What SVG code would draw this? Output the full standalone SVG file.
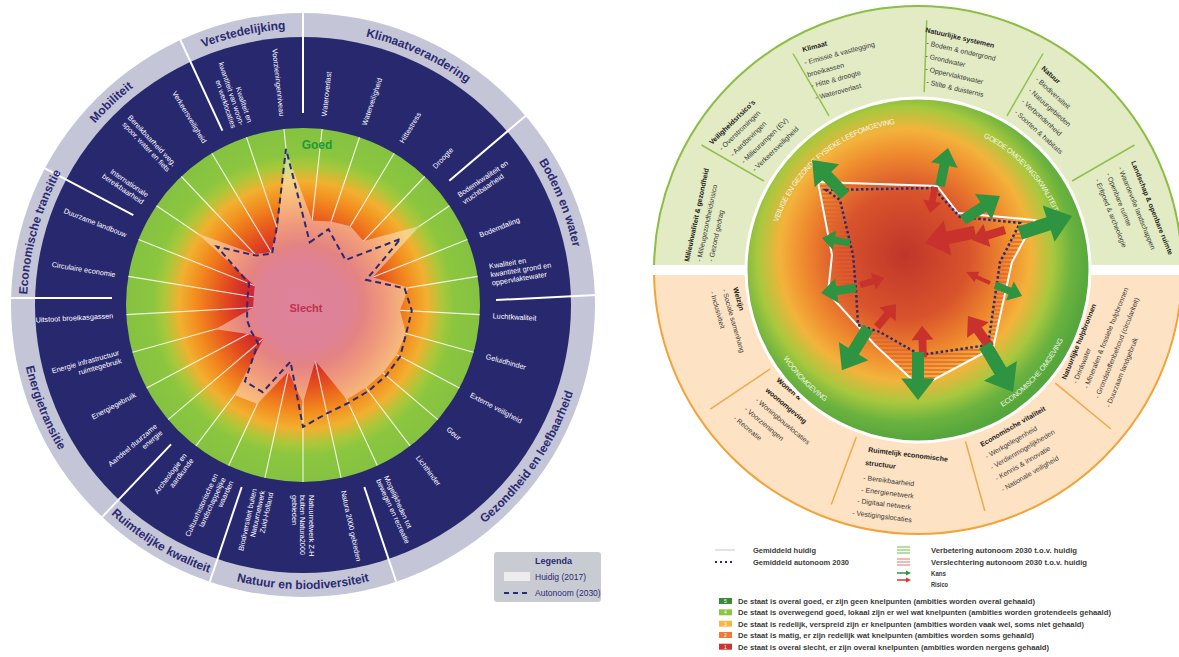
<svg xmlns="http://www.w3.org/2000/svg" xmlns:xlink="http://www.w3.org/1999/xlink" width="1179" height="657" viewBox="0 0 1179 657">
<style>
.lbl{font-family:'Liberation Sans',Arial,sans-serif;font-size:7.3px;fill:#fff}
.cat{font-family:'Liberation Sans',Arial,sans-serif;font-weight:bold;font-size:12px;fill:#2b2a72}
.rt{font-family:'Liberation Sans',Arial,sans-serif;font-size:7px;fill:#3a3a3a}
.rh{font-weight:bold;fill:#222}
.inl{font-family:'Liberation Sans',Arial,sans-serif;font-size:7.3px;letter-spacing:-0.3px;fill:#fff;fill-opacity:.9}
.lg{font-family:'Liberation Sans',Arial,sans-serif;font-size:8px;font-weight:bold;fill:#3b3b3b}
.div{stroke:#fff;stroke-width:2}
.gdiv{stroke:#93bf4f;stroke-width:1.5}
.odiv{stroke:#f0a848;stroke-width:1.5}
.spk{stroke:#fff;stroke-width:1.1;stroke-opacity:.85}
</style>
<defs>
<radialGradient id="gL" cx="303" cy="305" r="177" gradientUnits="userSpaceOnUse">
<stop offset="0" stop-color="#c42a55"/>
<stop offset="0.25" stop-color="#c8284a"/>
<stop offset="0.34" stop-color="#d02a2a"/>
<stop offset="0.46" stop-color="#e6501e"/>
<stop offset="0.6" stop-color="#f28a1e"/>
<stop offset="0.7" stop-color="#f2b030"/>
<stop offset="0.79" stop-color="#a9c83a"/>
<stop offset="0.85" stop-color="#8cc63f"/>
<stop offset="1" stop-color="#84c241"/>
</radialGradient>
<radialGradient id="gR" cx="905" cy="255" r="185" gradientUnits="userSpaceOnUse">
<stop offset="0" stop-color="#c0352a"/>
<stop offset="0.35" stop-color="#d9542c"/>
<stop offset="0.55" stop-color="#ef8a2e"/>
<stop offset="0.68" stop-color="#f3b33c"/>
<stop offset="0.8" stop-color="#a8c83e"/>
<stop offset="0.9" stop-color="#6cb33f"/>
<stop offset="1" stop-color="#55a63c"/>
</radialGradient>
<pattern id="hatch" width="6" height="4" patternUnits="userSpaceOnUse">
<line x1="0" y1="2" x2="6" y2="2" stroke="#e0602a" stroke-width="1.3"/>
</pattern>
<mask id="mH">
<rect width="1179" height="657" fill="#fff"/>
<polygon fill="#000" points="312.2,220.5 331.1,221.6 350.4,226.2 363.5,241.1 419.7,225.9 372.7,277.2 408.6,287.7 399.9,310.2 406.1,333.6 396.7,354.6 383,373 366,387.8 346.7,399.4 315.3,360.7 303,403 288.4,371.4 257.2,403.9 234.6,394.9 263.4,338.7 248.2,334 215.3,329.3 253.1,307.7 253.7,296.9 254.7,285.8 197.1,233.2 254.9,254.2 271,251.9 277.5,229.2 286.2,150.9"/>
</mask>
<clipPath id="cUp"><rect x="600" y="0" width="579" height="265"/></clipPath>
<clipPath id="cLo"><rect x="600" y="275" width="579" height="300"/></clipPath>
<path id="aG" d="M0,-5 H22 V-14 L40,0 L22,14 V5 H0 Z" fill="#2e9441"/>
<path id="aR" d="M0,-5 H22 V-14 L40,0 L22,14 V5 H0 Z" fill="#c8312c"/>
<path id="pKl" d="M76.4,147.5 A276,276 0 0 1 569.8,375.5"/>
<path id="pBo" d="M247,34.7 A276,276 0 0 1 448,539.8"/>
<path id="pGe" d="M187,564.2 A284,284 0 0 0 500.6,101.1"/>
<path id="pNa" d="M23.3,354.3 A284,284 0 0 0 582.7,354.3"/>
<path id="pRu" d="M37.9,203.2 A284,284 0 0 0 517.3,491.3"/>
<path id="pEn" d="M153.8,63.4 A284,284 0 0 0 360.6,583.1"/>
<path id="pEc" d="M184.2,554.1 A276,276 0 0 1 329.4,30.3"/>
<path id="pMo" d="M72.6,456.9 A276,276 0 0 1 467.6,83.4"/>
<path id="pVe" d="M27.2,316.6 A276,276 0 0 1 558.2,199.8"/>
<path id="pGo" d="M883.5,126.1 A148,148 0 0 1 1059.9,312"/>
<path id="pVl" d="M772.3,296.1 A148,148 0 0 1 968.6,130.9"/>
<path id="pWo" d="M763.2,225.6 A161,161 0 0 0 956.9,426.2"/>
<path id="pEo" d="M884.5,427.5 A161,161 0 0 0 1071.1,220.3"/>
</defs>
<rect width="1179" height="657" fill="#fff"/>

<!-- LEFT WHEEL -->
<g id="left-wheel">
<circle cx="303" cy="305" r="292" fill="#c4c5d7"/>
<circle cx="303" cy="305" r="268" fill="#28286f"/>
<circle cx="303" cy="305" r="177" fill="url(#gL)"/>
<g id="spokes" mask="url(#mH)">
<line class="spk" x1="303" y1="305" x2="322.1" y2="129"/>
<line class="spk" x1="303" y1="305" x2="359.5" y2="137.3"/>
<line class="spk" x1="303" y1="305" x2="394.2" y2="153.3"/>
<line class="spk" x1="303" y1="305" x2="424.7" y2="176.5"/>
<line class="spk" x1="303" y1="305" x2="449.5" y2="205.7"/>
<line class="spk" x1="303" y1="305" x2="467.4" y2="239.5"/>
<line class="spk" x1="303" y1="305" x2="477.7" y2="276.4"/>
<line class="spk" x1="303" y1="305" x2="479.7" y2="314.6"/>
<line class="spk" x1="303" y1="305" x2="473.5" y2="352.3"/>
<line class="spk" x1="303" y1="305" x2="459.4" y2="387.9"/>
<line class="spk" x1="303" y1="305" x2="437.9" y2="419.6"/>
<line class="spk" x1="303" y1="305" x2="410.1" y2="445.9"/>
<line class="spk" x1="303" y1="305" x2="377.3" y2="465.6"/>
<line class="spk" x1="303" y1="305" x2="341.1" y2="477.9"/>
<line class="spk" x1="303" y1="305" x2="303" y2="482"/>
<line class="spk" x1="303" y1="305" x2="264.9" y2="477.9"/>
<line class="spk" x1="303" y1="305" x2="228.7" y2="465.6"/>
<line class="spk" x1="303" y1="305" x2="195.9" y2="445.9"/>
<line class="spk" x1="303" y1="305" x2="168.1" y2="419.6"/>
<line class="spk" x1="303" y1="305" x2="146.6" y2="387.9"/>
<line class="spk" x1="303" y1="305" x2="132.5" y2="352.3"/>
<line class="spk" x1="303" y1="305" x2="126.3" y2="314.6"/>
<line class="spk" x1="303" y1="305" x2="128.3" y2="276.4"/>
<line class="spk" x1="303" y1="305" x2="138.6" y2="239.5"/>
<line class="spk" x1="303" y1="305" x2="156.5" y2="205.7"/>
<line class="spk" x1="303" y1="305" x2="181.3" y2="176.5"/>
<line class="spk" x1="303" y1="305" x2="211.8" y2="153.3"/>
<line class="spk" x1="303" y1="305" x2="246.5" y2="137.3"/>
<line class="spk" x1="303" y1="305" x2="283.9" y2="129"/>
</g>
<polygon id="huidig" fill="#fff" fill-opacity="0.42" points="312.2,220.5 331.1,221.6 350.4,226.2 363.5,241.1 419.7,225.9 372.7,277.2 408.6,287.7 399.9,310.2 406.1,333.6 396.7,354.6 383,373 366,387.8 346.7,399.4 315.3,360.7 303,403 288.4,371.4 257.2,403.9 234.6,394.9 263.4,338.7 248.2,334 215.3,329.3 253.1,307.7 253.7,296.9 254.7,285.8 197.1,233.2 254.9,254.2 271,251.9 277.5,229.2 286.2,150.9"/>
<polygon id="autonoom" fill="none" stroke="#2b2a72" stroke-width="2" stroke-dasharray="6 4" points="309.8,242.4 328.5,229.2 338.1,246.7 345.6,260 400.7,238.8 366.2,279.8 404.6,288.3 411.8,310.9 406.1,333.6 400.2,356.5 386.1,375.6 368.4,391 348.3,403 326.9,413.4 303,427 290.5,361.6 262.7,392.1 244.9,381.4 258,343.2 251.7,332.2 247.1,320.5 247.1,308 247.7,295.9 249.1,283.5 216.9,246.6 256.2,255.6 272.1,253.6 276.8,227.3 286,148.9"/>
<text x="317" y="149" text-anchor="middle" font-family="'Liberation Sans',Arial,sans-serif" font-weight="bold" font-size="12" fill="#1f9a3a">Goed</text>
<text x="306" y="312" text-anchor="middle" font-family="'Liberation Sans',Arial,sans-serif" font-weight="bold" font-size="11" fill="#c3304f">Slecht</text>
<g id="dividers">
<line class="div" x1="303" y1="113" x2="303" y2="13"/>
<line class="div" x1="449.3" y1="180.7" x2="525.5" y2="115.9"/>
<line class="div" x1="496" y1="300" x2="596" y2="295"/>
<line class="div" x1="364.3" y1="487" x2="396.2" y2="581.7"/>
<line class="div" x1="241.7" y1="487" x2="209.8" y2="581.7"/>
<line class="div" x1="171" y1="444.4" x2="102.2" y2="517"/>
<line class="div" x1="11" y1="298" x2="112" y2="298"/>
<line class="div" x1="133.3" y1="215.1" x2="45" y2="168.3"/>
<line class="div" x1="222.4" y1="130.7" x2="180.4" y2="40"/>
</g>
<g id="categories">
<text class="cat"><textPath href="#pKl" startOffset="50%" text-anchor="middle">Klimaatverandering</textPath></text>
<text class="cat"><textPath href="#pBo" startOffset="50%" text-anchor="middle">Bodem en water</textPath></text>
<text class="cat"><textPath href="#pGe" startOffset="50%" text-anchor="middle">Gezondheid en leefbaarheid</textPath></text>
<text class="cat"><textPath href="#pNa" startOffset="50%" text-anchor="middle">Natuur en biodiversiteit</textPath></text>
<text class="cat"><textPath href="#pRu" startOffset="50%" text-anchor="middle">Ruimtelijke kwaliteit</textPath></text>
<text class="cat"><textPath href="#pEn" startOffset="50%" text-anchor="middle">Energietransitie</textPath></text>
<text class="cat"><textPath href="#pEc" startOffset="50%" text-anchor="middle">Economische transitie</textPath></text>
<text class="cat"><textPath href="#pMo" startOffset="50%" text-anchor="middle">Mobiliteit</textPath></text>
<text class="cat"><textPath href="#pVe" startOffset="50%" text-anchor="middle">Verstedelijking</textPath></text>
</g>
<g id="items">
<text class="lbl" transform="rotate(-83.79 303 305)" x="493" y="308">Wateroverlast</text>
<text class="lbl" transform="rotate(-71.38 303 305)" x="493" y="308">Waterveiligheid</text>
<text class="lbl" transform="rotate(-58.97 303 305)" x="493" y="308">Hittestress</text>
<text class="lbl" transform="rotate(-46.55 303 305)" x="493" y="308">Droogte</text>
<text class="lbl" transform="rotate(-34.14 303 305)"><tspan x="493" y="304">Bodemkwaliteit en</tspan><tspan x="493" y="312.5">vruchtbaarheid</tspan></text>
<text class="lbl" transform="rotate(-21.72 303 305)" x="493" y="308">Bodemdaling</text>
<text class="lbl" transform="rotate(-9.31 303 305)"><tspan x="493" y="299.5">Kwaliteit en</tspan><tspan x="493" y="308">kwantiteit grond en</tspan><tspan x="493" y="316.5">oppervlaktewater</tspan></text>
<text class="lbl" transform="rotate(3.10 303 305)" x="493" y="308">Luchtkwaliteit</text>
<text class="lbl" transform="rotate(15.52 303 305)" x="493" y="308">Geluidhinder</text>
<text class="lbl" transform="rotate(27.93 303 305)" x="493" y="308">Externe veiligheid</text>
<text class="lbl" transform="rotate(40.34 303 305)" x="493" y="308">Geur</text>
<text class="lbl" transform="rotate(52.76 303 305)" x="493" y="308">Lichthinder</text>
<text class="lbl" transform="rotate(65.17 303 305)"><tspan x="493" y="304">Mogelijkheden tot</tspan><tspan x="493" y="312.5">bewegen en recreatie</tspan></text>
<text class="lbl" transform="rotate(77.59 303 305)" x="493" y="308">Natura 2000 gebieden</text>
<text class="lbl" transform="rotate(90 303 305)"><tspan x="493" y="299.5">Natuurnetwerk Z-H</tspan><tspan x="493" y="308">buiten Natura2000</tspan><tspan x="493" y="316.5">gebieden</tspan></text>
<text class="lbl" text-anchor="end" transform="rotate(282.41 303 305)"><tspan x="113" y="299.5">Biodiversiteit buiten</tspan><tspan x="113" y="308">Natuurnetwerk</tspan><tspan x="113" y="316.5">Zuid-Holland</tspan></text>
<text class="lbl" text-anchor="end" transform="rotate(294.83 303 305)"><tspan x="113" y="299.5">Cultuurhistorische en</tspan><tspan x="113" y="308">landschappelijke</tspan><tspan x="113" y="316.5">waarden</tspan></text>
<text class="lbl" text-anchor="end" transform="rotate(307.24 303 305)"><tspan x="113" y="304">Archeologie en</tspan><tspan x="113" y="312.5">aardkunde</tspan></text>
<text class="lbl" text-anchor="end" transform="rotate(319.66 303 305)"><tspan x="113" y="304">Aandeel duurzame</tspan><tspan x="113" y="312.5">energie</tspan></text>
<text class="lbl" text-anchor="end" transform="rotate(332.07 303 305)" x="113" y="308">Energiegebruik</text>
<text class="lbl" text-anchor="end" transform="rotate(344.48 303 305)"><tspan x="113" y="304">Energie infrastructuur</tspan><tspan x="113" y="312.5">ruimtegebruik</tspan></text>
<text class="lbl" text-anchor="end" transform="rotate(356.90 303 305)" x="113" y="308">Uitstoot broeikasgassen</text>
<text class="lbl" text-anchor="end" transform="rotate(9.31 303 305)" x="113" y="308">Circulaire economie</text>
<text class="lbl" text-anchor="end" transform="rotate(21.72 303 305)" x="113" y="308">Duurzame landbouw</text>
<text class="lbl" text-anchor="end" transform="rotate(34.14 303 305)"><tspan x="113" y="304">Internationale</tspan><tspan x="113" y="312.5">bereikbaarheid</tspan></text>
<text class="lbl" text-anchor="end" transform="rotate(46.55 303 305)"><tspan x="113" y="304">Bereikbaarheid weg,</tspan><tspan x="113" y="312.5">spoor, water en fiets</tspan></text>
<text class="lbl" text-anchor="end" transform="rotate(58.97 303 305)" x="113" y="308">Verkeersveiligheid</text>
<text class="lbl" text-anchor="end" transform="rotate(71.38 303 305)"><tspan x="113" y="299.5">Kwaliteit en</tspan><tspan x="113" y="308">kwantiteit van woon-</tspan><tspan x="113" y="316.5">en werklocaties</tspan></text>
<text class="lbl" text-anchor="end" transform="rotate(83.79 303 305)" x="113" y="308">Voorzieningenniveau</text>
</g>
</g>

<g id="legend-left">
<rect x="494" y="552" width="107" height="50" rx="3" fill="#c9cbd3"/>
<text x="535" y="564" font-family="'Liberation Sans',Arial,sans-serif" font-weight="bold" font-size="9" fill="#2b2a72">Legenda</text>
<rect x="504" y="572" width="26" height="9" fill="#ededf0"/>
<text x="535" y="580" font-family="'Liberation Sans',Arial,sans-serif" font-size="8.5" fill="#2b2a72">Huidig (2017)</text>
<line x1="504" y1="593" x2="530" y2="593" stroke="#2b2a72" stroke-width="2" stroke-dasharray="5 4"/>
<text x="535" y="596" font-family="'Liberation Sans',Arial,sans-serif" font-size="8.5" fill="#2b2a72">Autonoom (2030)</text>
</g>

<!-- RIGHT WHEEL -->
<g id="right-wheel">
<circle cx="918" cy="270" r="264" fill="#e2ebc3" stroke="#8cbd45" stroke-width="2" clip-path="url(#cUp)"/>
<circle cx="918" cy="270" r="264" fill="#fde3c3" stroke="#f2a33a" stroke-width="2" clip-path="url(#cLo)"/>
<g id="ring-dividers">
<line class="gdiv" x1="763.9" y1="181" x2="701.5" y2="145"/>
<line class="gdiv" x1="829" y1="115.9" x2="793" y2="53.5"/>
<line class="gdiv" x1="924.2" y1="92.1" x2="926.7" y2="20.2"/>
<line class="gdiv" x1="1007" y1="115.9" x2="1043" y2="53.5"/>
<line class="gdiv" x1="1072.1" y1="181" x2="1134.5" y2="145"/>
<line class="odiv" x1="1055.3" y1="383.2" x2="1110.9" y2="429"/>
<line class="odiv" x1="965.6" y1="441.5" x2="984.8" y2="510.9"/>
<line class="odiv" x1="856.3" y1="436.9" x2="831.3" y2="504.5"/>
<line class="odiv" x1="770.1" y1="369" x2="710.3" y2="409.1"/>
</g>
<g id="sector-milieu">
<text class="rt rh" transform="translate(689,262) rotate(-78)">Milieukwaliteit &amp; gezondheid</text>
<text class="rt" transform="translate(701,262) rotate(-78)">- Milieugezondheidsrisico</text>
<text class="rt" transform="translate(713,262) rotate(-78)">- Gezond gedrag</text>
</g>
<g id="sector-veiligheid">
<text class="rt rh" transform="translate(712,145) rotate(-44)">Veiligheidsrisico's</text>
<text class="rt" transform="translate(722,151) rotate(-44)">- Overstromingen</text>
<text class="rt" transform="translate(733,157) rotate(-44)">- Aardbevingen</text>
<text class="rt" transform="translate(744,164) rotate(-44)">- Milieurampen (EV)</text>
<text class="rt" transform="translate(755,172) rotate(-44)">- Verkeersveiligheid</text>
</g>
<g id="sector-klimaat">
<text class="rt rh" transform="translate(803,52) rotate(-15)">Klimaat</text>
<text class="rt" transform="translate(805,65) rotate(-15)">- Emissie &amp; vastlegging</text>
<text class="rt" transform="translate(808,77) rotate(-15)">broeikassen</text>
<text class="rt" transform="translate(812,88) rotate(-15)">- Hitte &amp; droogte</text>
<text class="rt" transform="translate(816,100) rotate(-15)">- Wateroverlast</text>
</g>
<g id="sector-natuurlijke-systemen">
<text class="rt rh" transform="translate(925,32) rotate(13)">Natuurlijke systemen</text>
<text class="rt" transform="translate(926,45) rotate(13)">- Bodem &amp; ondergrond</text>
<text class="rt" transform="translate(925,58) rotate(13)">- Grondwater</text>
<text class="rt" transform="translate(925,71) rotate(13)">- Oppervlaktewater</text>
<text class="rt" transform="translate(926,84) rotate(13)">- Stilte &amp; duisternis</text>
</g>
<g id="sector-natuur">
<text class="rt rh" transform="translate(1041,69) rotate(42)">Natuur</text>
<text class="rt" transform="translate(1035,80) rotate(42)">- Biodiversiteit</text>
<text class="rt" transform="translate(1028,91) rotate(42)">- Natuurgebieden</text>
<text class="rt" transform="translate(1021,102) rotate(42)">- Verbondenheid</text>
<text class="rt" transform="translate(1014,113) rotate(42)">- Soorten &amp; habitats</text>
</g>
<g id="sector-landschap">
<text class="rt rh" transform="translate(1131,162) rotate(68)">Landschap &amp; openbare ruimte</text>
<text class="rt" transform="translate(1118,168) rotate(68)">- Waardevolle landschappen</text>
<text class="rt" transform="translate(1106,174) rotate(68)">- Openbare ruimte</text>
<text class="rt" transform="translate(1095,180) rotate(68)">- Erfgoed &amp; archeologie</text>
</g>
<g id="sector-hulpbronnen">
<text class="rt rh" transform="translate(1066,380) rotate(-68)">Natuurlijke hulpbronnen</text>
<text class="rt" transform="translate(1077,384) rotate(-68)">- Drinkwater</text>
<text class="rt" transform="translate(1088,389) rotate(-68)">- Mineralen &amp; fossiele hulpbronnen</text>
<text class="rt" transform="translate(1099,399) rotate(-68)">- Grondstoffenbehoud (circulariteit)</text>
<text class="rt" transform="translate(1110,408) rotate(-68)">- Duurzaam landgebruik</text>
</g>
<g id="sector-economische-vitaliteit">
<text class="rt rh" transform="translate(982,447) rotate(-30)">Economische vitaliteit</text>
<text class="rt" transform="translate(987,459) rotate(-30)">- Werkgelegenheid</text>
<text class="rt" transform="translate(992,470) rotate(-30)">- Verdienmogelijkheden</text>
<text class="rt" transform="translate(997,481) rotate(-30)">- Kennis &amp; innovatie</text>
<text class="rt" transform="translate(1003,492) rotate(-30)">- Nationale veiligheid</text>
</g>
<g id="sector-ruimtelijk-economisch">
<text class="rt rh" transform="translate(868,452) rotate(7)">Ruimtelijk economische</text>
<text class="rt rh" transform="translate(865,465) rotate(7)">structuur</text>
<text class="rt" transform="translate(863,480) rotate(7)">- Bereikbaarheid</text>
<text class="rt" transform="translate(861,492) rotate(7)">- Energienetwerk</text>
<text class="rt" transform="translate(857,503) rotate(7)">- Digitaal netwerk</text>
<text class="rt" transform="translate(852,515) rotate(7)">- Vestigingslocaties</text>
</g>
<g id="sector-wonen">
<text class="rt rh" transform="translate(776,381) rotate(40)">Wonen &amp;</text>
<text class="rt rh" transform="translate(765,391) rotate(40)">woonomgeving</text>
<text class="rt" transform="translate(755,401) rotate(40)">- Woningbouwlocaties</text>
<text class="rt" transform="translate(744,410) rotate(40)">- Voorzieningen</text>
<text class="rt" transform="translate(733,419) rotate(40)">- Recreatie</text>
</g>
<g id="sector-welzijn">
<text class="rt rh" transform="translate(733,288) rotate(74)">Welzijn</text>
<text class="rt" transform="translate(722,290) rotate(74)">- Sociale samenhang</text>
<text class="rt" transform="translate(710,292) rotate(74)">- Inclusiviteit</text>
</g>
<g id="inner-disc">
<circle cx="918" cy="270" r="172" fill="url(#gR)" stroke="#fff" stroke-width="3"/>
<text class="inl"><textPath href="#pVl" startOffset="50%" text-anchor="middle">VEILIGE EN GEZONDE FYSIEKE LEEFOMGEVING</textPath></text>
<text class="inl"><textPath href="#pGo" startOffset="50%" text-anchor="middle">GOEDE OMGEVINGSKWALITEIT</textPath></text>
<text class="inl"><textPath href="#pWo" startOffset="50%" text-anchor="middle">WOONOMGEVING</textPath></text>
<text class="inl"><textPath href="#pEo" startOffset="50%" text-anchor="middle">ECONOMISCHE OMGEVING</textPath></text>
</g>
<g id="radar-right">
<path fill="url(#hatch)" fill-rule="evenodd" d="M818,182 L937,186 L958,213 L1035,220 L1012,262 L993,348 L920,387 L875,345 L828,293 L832,255 Z M826,190 L933,188 L960,217 L1020,223 L1000,262 L988,345 L920,355 L880,332 L858,325 L856,290 L853,255 L840,200 Z"/>
<polygon fill="none" stroke="#fff" stroke-width="2" points="818,182 937,186 958,213 1035,220 1012,262 993,348 920,387 875,345 828,293 832,255"/>
<polygon fill="none" stroke="#2b2a72" stroke-width="2.5" stroke-dasharray="2.5 2.5" points="826,190 933,188 960,217 1020,223 1000,262 988,345 920,355 880,332 858,325 856,290 853,255 840,200"/>
</g>
<g id="arrows">
<use href="#aR" transform="translate(935,187) rotate(100.9) scale(.66)"/>
<use href="#aR" transform="translate(975,232) rotate(167.6) scale(1.28)"/>
<use href="#aR" transform="translate(1005,230) rotate(163.1) scale(.86)"/>
<use href="#aR" transform="translate(990,283) rotate(-155.4) scale(.66 .4)"/>
<use href="#aR" transform="translate(990,347) rotate(-125.4) scale(.95)"/>
<use href="#aR" transform="translate(923,357) rotate(-91.8) scale(.78)"/>
<use href="#aR" transform="translate(877,327) rotate(-50.4) scale(.75)"/>
<use href="#aR" transform="translate(860,285) rotate(-16.3) scale(.63)"/>
<use href="#aG" transform="translate(845,195) rotate(-133.3) scale(1.2)"/>
<use href="#aG" transform="translate(940,186) rotate(-78.1) scale(.97)"/>
<use href="#aG" transform="translate(963,220) rotate(-33) scale(1.1)"/>
<use href="#aG" transform="translate(1020,233) rotate(-18.1) scale(1.37)"/>
<use href="#aG" transform="translate(995,285) rotate(22.2) scale(.73)"/>
<use href="#aG" transform="translate(985,345) rotate(59.2) scale(1.37)"/>
<use href="#aG" transform="translate(918,352) rotate(90) scale(1.2)"/>
<use href="#aG" transform="translate(868,328) rotate(121.8) scale(1.24)"/>
<use href="#aG" transform="translate(856,288) rotate(171.9) scale(.88)"/>
<use href="#aG" transform="translate(850,243) rotate(-169.9) scale(.71)"/>
</g>
</g>

<g id="legend-right">
<line x1="715" y1="550" x2="735" y2="550" stroke="#d8d8d8" stroke-width="1.5"/>
<text class="lg" x="753" y="553" textLength="63" lengthAdjust="spacingAndGlyphs">Gemiddeld huidig</text>
<line x1="715" y1="562" x2="735" y2="562" stroke="#2b2a72" stroke-width="2" stroke-dasharray="2 3"/>
<text class="lg" x="753" y="565" textLength="96" lengthAdjust="spacingAndGlyphs">Gemiddeld autonoom 2030</text>
<g stroke="#6dbb45" stroke-width="1"><line x1="897" y1="547" x2="910" y2="547"/><line x1="897" y1="550" x2="910" y2="550"/><line x1="897" y1="553" x2="910" y2="553"/></g>
<text class="lg" x="931" y="553" textLength="146" lengthAdjust="spacingAndGlyphs">Verbetering autonoom 2030 t.o.v. huidig</text>
<g stroke="#e8706a" stroke-width="1"><line x1="897" y1="559" x2="910" y2="559"/><line x1="897" y1="562" x2="910" y2="562"/><line x1="897" y1="565" x2="910" y2="565"/></g>
<text class="lg" x="931" y="565" textLength="156" lengthAdjust="spacingAndGlyphs">Verslechtering autonoom 2030 t.o.v. huidig</text>
<line x1="897" y1="573" x2="907" y2="573" stroke="#2e9441" stroke-width="1.5"/><polygon points="906,570.5 911,573 906,575.5" fill="#2e9441"/>
<text class="lg" x="931" y="576" textLength="15" lengthAdjust="spacingAndGlyphs">Kans</text>
<line x1="897" y1="580" x2="907" y2="580" stroke="#d8362d" stroke-width="1.5"/><polygon points="906,577.5 911,580 906,582.5" fill="#d8362d"/>
<text class="lg" x="931" y="587" textLength="17" lengthAdjust="spacingAndGlyphs">Risico</text>
<g font-family="'Liberation Sans',Arial,sans-serif" font-size="5" fill="#fff" text-anchor="middle">
<rect x="719" y="598" width="13" height="6" fill="#3a8a3a"/><text x="725.5" y="603">5</text>
<rect x="719" y="609.3" width="13" height="6" fill="#8cc63f"/><text x="725.5" y="614.3">4</text>
<rect x="719" y="620.7" width="13" height="6" fill="#f5b942"/><text x="725.5" y="625.7">3</text>
<rect x="719" y="632" width="13" height="6" fill="#ee7a3a"/><text x="725.5" y="637">2</text>
<rect x="719" y="643.7" width="13" height="6" fill="#c8362d"/><text x="725.5" y="648.7">1</text>
</g>
<text class="lg" x="738" y="604" textLength="297" lengthAdjust="spacingAndGlyphs">De staat is overal goed, er zijn geen knelpunten (ambities worden overal gehaald)</text>
<text class="lg" x="738" y="615.3" textLength="373" lengthAdjust="spacingAndGlyphs">De staat is overwegend goed, lokaal zijn er wel wat knelpunten (ambities worden grotendeels gehaald)</text>
<text class="lg" x="738" y="626.7" textLength="346" lengthAdjust="spacingAndGlyphs">De staat is redelijk, verspreid zijn er knelpunten (ambities worden vaak wel, soms niet gehaald)</text>
<text class="lg" x="738" y="638" textLength="296" lengthAdjust="spacingAndGlyphs">De staat is matig, er zijn redelijk wat knelpunten (ambities worden soms gehaald)</text>
<text class="lg" x="738" y="649.7" textLength="311" lengthAdjust="spacingAndGlyphs">De staat is overal slecht, er zijn overal knelpunten (ambities worden nergens gehaald)</text>
</g>
</svg>
